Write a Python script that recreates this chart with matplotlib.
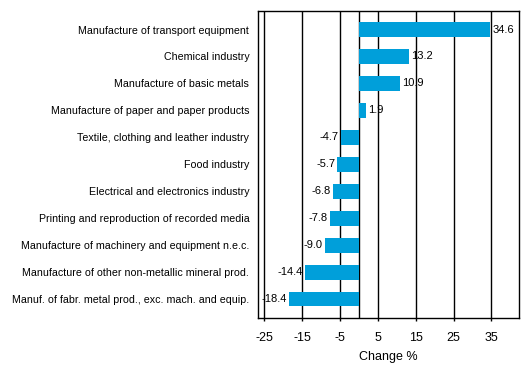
import matplotlib.pyplot as plt
import numpy as np

plt.rcParams['font.family'] = ['Liberation Sans', 'DejaVu Sans']

categories = [
    "Manufacture of transport equipment",
    "Chemical industry",
    "Manufacture of basic metals",
    "Manufacture of paper and paper products",
    "Textile, clothing and leather industry",
    "Food industry",
    "Electrical and electronics industry",
    "Printing and reproduction of recorded media",
    "Manufacture of machinery and equipment n.e.c.",
    "Manufacture of other non-metallic mineral prod.",
    "Manuf. of fabr. metal prod., exc. mach. and equip.",
]
values = [34.6, 13.2, 10.9, 1.9, -4.7, -5.7, -6.8, -7.8, -9.0, -14.4, -18.4]
xticks = [-25, -15, -5, 5, 15, 25, 35]

fig = plt.figure(figsize=(5.29, 3.77), dpi=100)
ax = fig.add_axes([0.487, 0.1565, 0.4935, 0.8145])

y = np.arange(len(categories))
ax.barh(y, values, height=0.545, color='#009fda', zorder=3)

for x in xticks + [0]:
    ax.axvline(x, color='black', lw=1.0, zorder=2)

for yi, v in zip(y, values):
    if v >= 0:
        ax.text(v + 0.6, yi, f"{v:.1f}", va='center', ha='left', fontsize=8, zorder=4)
    else:
        ax.text(v - 0.6, yi, f"{v:.1f}", va='center', ha='right', fontsize=8, zorder=4)

ax.set_xlim(-26.8, 42.2)
ax.set_ylim(10.7, -0.69)
ax.set_yticks(y)
ax.set_yticklabels(categories, fontsize=7.7)
ax.tick_params(axis='y', length=0, pad=6)
ax.set_xticks(xticks)
ax.set_xticklabels([str(t) for t in xticks], fontsize=9)
ax.tick_params(axis='x', length=2, width=1, pad=8)
ax.set_xlabel("Change %", fontsize=9, labelpad=5)
for s in ax.spines.values():
    s.set_linewidth(1.0)

fig.savefig("out.png", dpi=100)
